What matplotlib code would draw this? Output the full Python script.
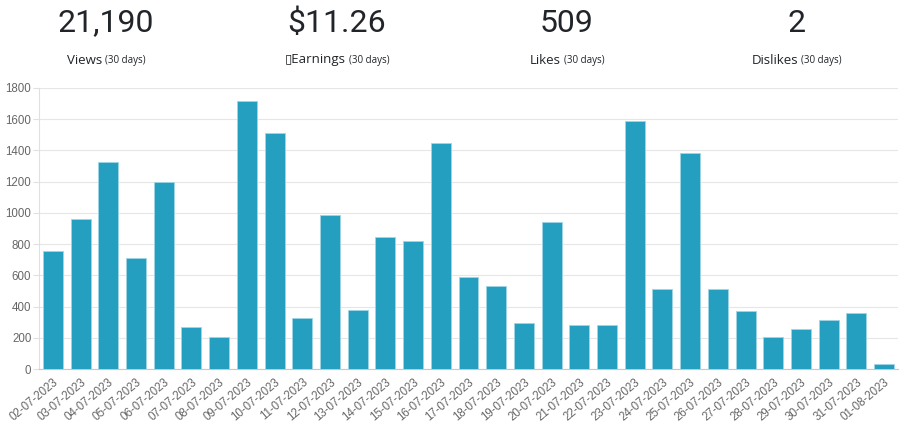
import numpy as np
import matplotlib
matplotlib.use("Agg")
from matplotlib import pyplot as plt
from matplotlib.offsetbox import TextArea, HPacker, AnchoredOffsetbox

dates = [
    "02-07-2023", "03-07-2023", "04-07-2023", "05-07-2023", "06-07-2023",
    "07-07-2023", "08-07-2023", "09-07-2023", "10-07-2023", "11-07-2023",
    "12-07-2023", "13-07-2023", "14-07-2023", "15-07-2023", "16-07-2023",
    "17-07-2023", "18-07-2023", "19-07-2023", "20-07-2023", "21-07-2023",
    "22-07-2023", "23-07-2023", "24-07-2023", "25-07-2023", "26-07-2023",
    "27-07-2023", "28-07-2023", "29-07-2023", "30-07-2023", "31-07-2023",
    "01-08-2023",
]
views = [
    756, 961, 1328, 711, 1196, 271, 205, 1714, 1514, 325,
    986, 378, 845, 820, 1445, 591, 529, 295, 944, 282,
    280, 1586, 510, 1381, 512, 371, 207, 256, 316, 357,
    32,
]

stat_values = ["21,190", "$11.26", "509", "2"]
stat_labels = ["Views", "\u25afEarnings", "Likes", "Dislikes"]
stat_centers = [106, 337, 567, 797]

W, H = 906, 424
fig = plt.figure(figsize=(W / 100, H / 100), dpi=100)
fonts = ["Open Sans", "DejaVu Sans"]

# header stats
for val, lab, cx in zip(stat_values, stat_labels, stat_centers):
    fig.text(cx / W, 1 - 23 / H, val, ha="center", va="center",
             fontsize=23, color="#212529", family="Roboto")
    box = HPacker(children=[
        TextArea(lab, textprops=dict(fontsize=9.5, color="#212529", family=fonts)),
        TextArea("(30 days)", textprops=dict(fontsize=7, color="#212529", family=fonts)),
    ], align="baseline", pad=0, sep=2)
    anch = AnchoredOffsetbox(loc="center", child=box, pad=0, frameon=False,
                             bbox_to_anchor=(cx / W, 1 - 60 / H),
                             bbox_transform=fig.transFigure, borderpad=0)
    fig.add_artist(anch)

ax = fig.add_axes([39 / W, 1 - 369 / H, 859 / W, 281 / H])
x = np.arange(len(dates))
ax.bar(x, views, width=0.72, color="#249fc0", edgecolor="#9fd6e6",
       linewidth=0.6, zorder=3)

ax.set_xlim(-0.5, len(dates) - 0.5)
ax.set_ylim(0, 1800)
ax.set_yticks(np.arange(0, 1801, 200))
ax.set_xticks(x)
ax.set_xticklabels(dates, rotation=40, ha="right", rotation_mode="anchor")
ax.grid(axis="y", color="#e6e6e6", linewidth=0.8, zorder=0)
for s in ["top", "right"]:
    ax.spines[s].set_visible(False)
ax.spines["left"].set_color("#e0e0e0")
ax.spines["bottom"].set_color("#c8c8c8")
ax.tick_params(axis="y", length=4, color="#e0e0e0", labelsize=8.3,
               labelcolor="#666666", pad=1.5)
ax.tick_params(axis="x", length=0, labelsize=8.3, labelcolor="#666666", pad=5)
for t in ax.get_xticklabels() + ax.get_yticklabels():
    t.set_family("Liberation Sans")

fig.savefig("out.png", dpi=100)
